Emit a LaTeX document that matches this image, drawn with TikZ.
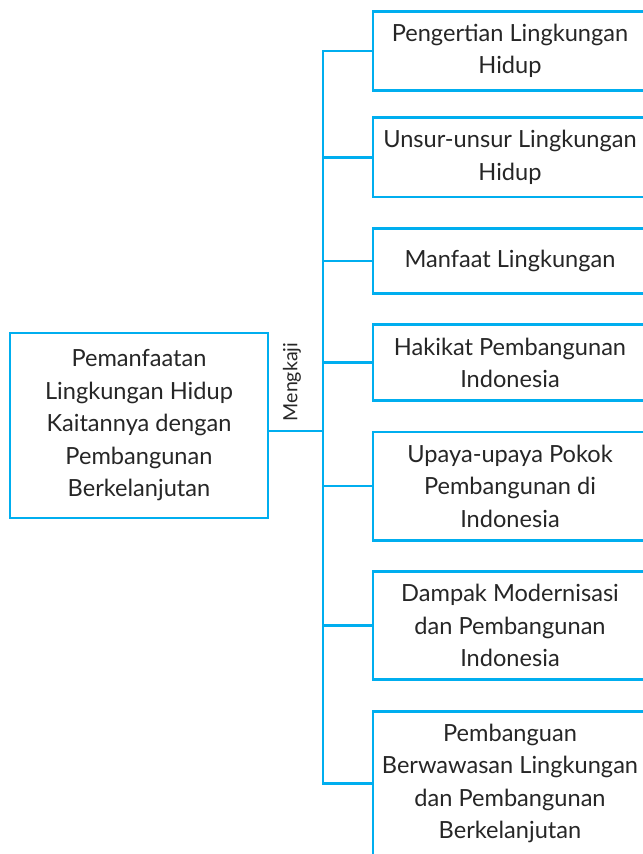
\documentclass[tikz,border=0pt]{standalone}
\usepackage{fontspec}
\setmainfont{Lato}
\usepackage{xcolor}
\usetikzlibrary{positioning}
\definecolor{mapblue}{HTML}{00AEEF}

\begin{document}
\begin{tikzpicture}[
  x=0.5pt,y=-0.5pt,
  node distance=14.3pt,
  box/.style={draw=mapblue,line width=1.4pt,align=center,minimum width=137pt,
              inner xsep=2pt,inner ysep=6.4pt,minimum height=32.5pt,
              font=\fontsize{11.8}{16.25}\selectfont,text=black!85},
  ln/.style={draw=mapblue,line width=1.4pt},
]
\useasboundingbox (0,0) rectangle (642,854);

\node[box,minimum width=129pt,minimum height=92.5pt] (main) at (139,425.5)
  {Pemanfaatan\\Lingkungan Hidup\\Kaitannya dengan\\Pembangunan\\Berkelanjutan};
\node[rotate=90,font=\fontsize{9.8}{11}\selectfont,text=black!85] (mk) at (292,382) {Mengkaji};

\node[box] (b1) at (510,51) {Pengertian Lingkungan\\Hidup};
\node[box,below=12pt of b1] (b2) {Unsur-unsur Lingkungan\\Hidup};
\node[box,below=of b2] (b3) {Manfaat Lingkungan};
\node[box,below=of b3] (b4) {Hakikat Pembangunan\\Indonesia};
\node[box,below=of b4] (b5) {Upaya-upaya Pokok\\Pembangunan di\\Indonesia};
\node[box,below=of b5] (b6) {Dampak Modernisasi\\dan Pembangunan\\Indonesia};
\node[box,below=of b6] (b7) {Pembanguan\\Berwawasan Lingkungan\\dan Pembangunan\\Berkelanjutan};

\coordinate (tr) at (323,0);
\coordinate (jn) at (323,431);

\draw[ln] (b1.west) -- (b1.west -| tr) -- (b7.west -| tr) -- (b7.west);
\foreach \b in {b2,b3,b4,b5,b6}
  \draw[ln] (\b.west -| tr) -- (\b.west);
\draw[ln] (main.east |- jn) -- (jn);
\end{tikzpicture}
\end{document}
